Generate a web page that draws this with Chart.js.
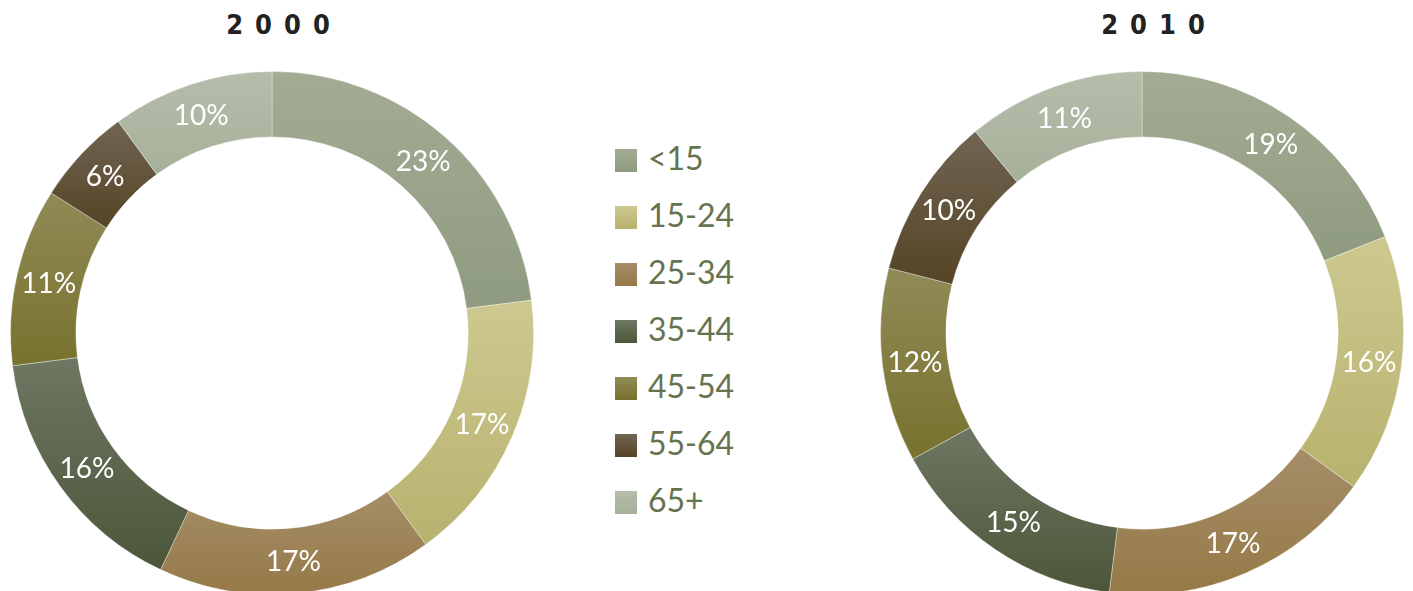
<!DOCTYPE html>
<html>
<head>
<meta charset="utf-8">
<script src="https://cdn.jsdelivr.net/npm/chart.js@4/dist/chart.umd.min.js"></script>
<style>
    html, body { margin: 0; padding: 0; background: #fff; overflow: hidden; }
    body { width: 1413px; height: 591px; position: relative; }
    .titulo {
        position: absolute; top: 8px; width: 200px; text-align: center;
        font-family: "DejaVu Sans Condensed", "Liberation Sans Narrow", sans-serif;
        font-weight: bold; font-size: 27px; line-height: 34px;
        letter-spacing: 12px; color: #222;
    }
    canvas { position: absolute; top: 71px; }
    #legenda { position: absolute; left: 615px; top: 0; margin: 0; padding: 0; list-style: none; }
    #legenda li {
        position: absolute; left: 0; height: 40px; width: 200px;
        font-family: Lato, "Open Sans", sans-serif; font-size: 32px; line-height: 40px;
        color: #66734f; white-space: nowrap;
    }
    #legenda li span {
        display: inline-block; width: 22px; height: 23px; margin-right: 11px;
        vertical-align: -2px;
    }
</style>
</head>
<body>
<div class="titulo" id="titulo0" style="left:184px">2000</div>
<div class="titulo" id="titulo1" style="left:1059px">2010</div>
<canvas id="chart2000" width="524" height="524" style="left:10px"></canvas>
<canvas id="chart2010" width="524" height="524" style="left:880px"></canvas>
<ul id="legenda"></ul>

<script>
// Faixas etarias e percentuais
const faixas = ['<15', '15-24', '25-34', '35-44', '45-54', '55-64', '65+'];
const anos = ['2000', '2010'];
const valores2000 = [23, 17, 17, 16, 11, 6, 10];
const valores2010 = [19, 16, 17, 15, 12, 10, 11];

// Cores (topo / base do degrade de cada fatia)
const coresTopo = ['#a2ac94', '#cdc88f', '#a68d68', '#6e7762', '#908a57', '#716553', '#b5bdab'];
const coresBase = ['#8f9b80', '#b8b26f', '#957947', '#4b5639', '#78722e', '#554425', '#a6b099'];

/**
 * Degrade vertical por fatia, calculado a partir da geometria do anel
 */
function gradienteFatia(context) {
    const chart = context.chart;
    const i = context.dataIndex;
    const area = chart.chartArea;
    if (!area) return coresTopo[i];

    const dados = context.dataset.data;
    const total = dados.reduce((a, b) => a + b, 0);
    let acumulado = 0;
    for (let k = 0; k < i; k++) acumulado += dados[k];

    const inicio = acumulado / total * Math.PI * 2;
    const fim = (acumulado + dados[i]) / total * Math.PI * 2;
    const cy = (area.top + area.bottom) / 2;
    const rOut = Math.min(area.right - area.left, area.bottom - area.top) / 2;
    const rIn = rOut * 0.75;

    let yMin = Infinity, yMax = -Infinity;
    for (let s = 0; s <= 40; s++) {
        const a = inicio + (fim - inicio) * s / 40;
        [rOut, rIn].forEach(function(r) {
            const y = cy - r * Math.cos(a);
            yMin = Math.min(yMin, y);
            yMax = Math.max(yMax, y);
        });
    }

    const g = chart.ctx.createLinearGradient(0, yMin, 0, yMax);
    g.addColorStop(0, coresTopo[i]);
    g.addColorStop(1, coresBase[i]);
    return g;
}

// Plugin simples para escrever os percentuais dentro das fatias
const rotulosPlugin = {
    id: 'rotulos',
    afterDatasetsDraw(chart) {
        const ctx = chart.ctx;
        const meta = chart.getDatasetMeta(0);
        const dados = chart.data.datasets[0].data;
        ctx.save();
        ctx.fillStyle = '#ffffff';
        ctx.font = '28px Lato, "Open Sans", sans-serif';
        ctx.textAlign = 'center';
        ctx.textBaseline = 'middle';
        meta.data.forEach(function(arc, i) {
            const p = arc.tooltipPosition();
            ctx.fillText(dados[i] + '%', p.x, p.y + 1);
        });
        ctx.restore();
    }
};

function initRosca(id, valores) {
    const ctx = document.getElementById(id);
    if (!ctx) return;

    new Chart(ctx, {
        type: 'doughnut',
        data: {
            labels: faixas,
            datasets: [{
                data: valores,
                backgroundColor: gradienteFatia,
                borderWidth: 1,
                borderColor: 'rgba(255,255,255,0.35)',
                hoverOffset: 0
            }]
        },
        options: {
            responsive: false,
            animation: false,
            cutout: '75%',
            layout: { padding: 0 },
            plugins: {
                legend: { display: false },
                tooltip: { enabled: false }
            },
            events: []
        },
        plugins: [rotulosPlugin]
    });
}

function initLegenda() {
    const ul = document.getElementById('legenda');
    faixas.forEach(function(faixa, i) {
        const li = document.createElement('li');
        li.style.top = (138 + i * 57) + 'px';
        const quadro = document.createElement('span');
        quadro.style.background = 'linear-gradient(' + coresTopo[i] + ', ' + coresBase[i] + ')';
        li.appendChild(quadro);
        li.appendChild(document.createTextNode(faixa));
        ul.appendChild(li);
    });
}

document.getElementById('titulo0').textContent = anos[0];
document.getElementById('titulo1').textContent = anos[1];
initRosca('chart2000', valores2000);
initRosca('chart2010', valores2010);
initLegenda();
</script>
</body>
</html>
